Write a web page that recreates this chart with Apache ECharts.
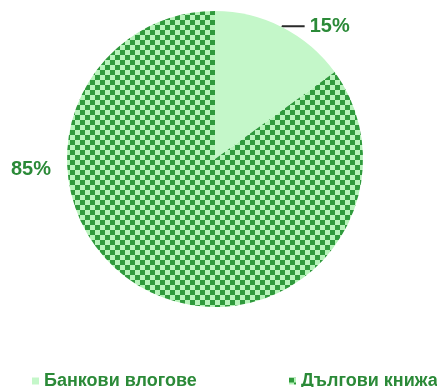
<!DOCTYPE html>
<html>
<head>
<meta charset="utf-8">
<script src="https://cdn.jsdelivr.net/npm/echarts@6/dist/echarts.min.js"></script>
<style>
  html, body { margin: 0; padding: 0; background: #fff; }
  #chart { width: 437px; height: 387px; }
</style>
</head>
<body>
<div id="chart"></div>
<script>
  // данни
  const categories = ['Банкови влогове', 'Дългови книжа']
  const values = [15, 85]

  // шахматна текстура за втория сектор
  function checker(dark, light, size) {
    const c = document.createElement('canvas')
    c.width = size * 2
    c.height = size * 2
    const ctx = c.getContext('2d')
    ctx.fillStyle = light
    ctx.fillRect(0, 0, size * 2, size * 2)
    ctx.fillStyle = dark
    ctx.fillRect(0, 0, size, size)
    ctx.fillRect(size, size, size, size)
    return c
  }

  const textColor = '#2b8a38'
  const colors = [
    '#c4f7c9',
    { image: checker('#2f9a3c', '#b6f3b9', 5), repeat: 'repeat' }
  ]

  const chart = echarts.init(document.getElementById('chart'), null, { renderer: 'canvas' })
  const legendText = {
    color: textColor,
    fontFamily: 'Liberation Sans, Arial, sans-serif',
    fontWeight: 'bold',
    fontSize: 18
  }
  chart.setOption({
    animation: false,
    legend: [
      {
        left: 27, top: 367, itemWidth: 7, itemHeight: 7, itemGap: 6,
        icon: 'rect', data: [categories[0]], textStyle: legendText
      },
      {
        left: 284, top: 367, itemWidth: 7, itemHeight: 7, itemGap: 5,
        icon: 'rect', data: [categories[1]], textStyle: legendText
      }
    ],
    series: [{
      type: 'pie',
      center: [215, 159],
      radius: 148,
      startAngle: 90,
      clockwise: true,
      avoidLabelOverlap: false,
      label: {
        show: true,
        position: 'outside',
        formatter: '{c}%',
        color: textColor,
        fontFamily: 'Liberation Sans, Arial, sans-serif',
        fontWeight: 'bold',
        fontSize: 20
      },
      labelLine: {
        show: true,
        length: 1,
        length2: 22,
        lineStyle: { color: '#2a2a2a', width: 2 }
      },
      labelLayout: function (params) {
        if (params.dataIndex === 1) {
          return { x: 31, y: 169, align: 'center', verticalAlign: 'middle' }
        }
        return {}
      },
      data: categories.map((name, i) => ({
        name: name,
        value: values[i],
        itemStyle: { color: colors[i] },
        labelLine: { show: i === 0 }
      }))
    }]
  })
</script>
</body>
</html>
